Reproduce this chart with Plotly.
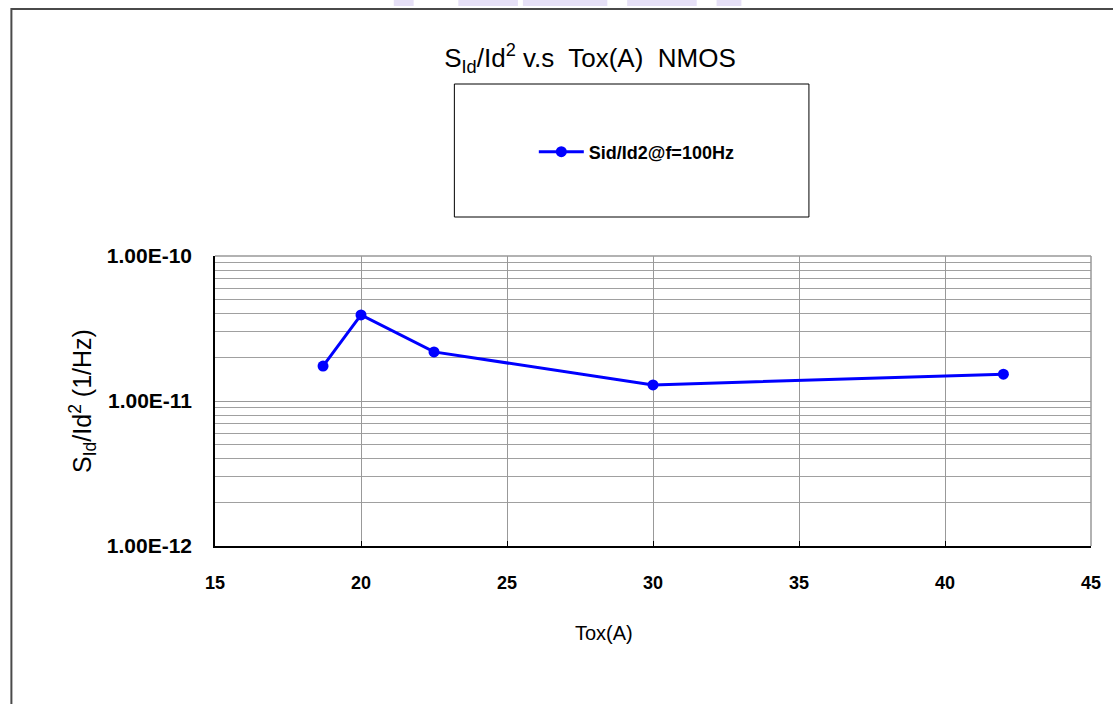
import plotly.graph_objects as go

# Data
tox = [18.7, 20.0, 22.5, 30.0, 42.0]
sid_id2 = [1.74e-11, 3.92e-11, 2.18e-11, 1.29e-11, 1.53e-11]
series_name = "Sid/Id2@f=100Hz"
x_ticks = [15, 20, 25, 30, 35, 40, 45]
y_major = [1e-12, 1e-11, 1e-10]
y_major_text = ["1.00E-12", "1.00E-11", "1.00E-10"]
y_minor = [m * 10.0 ** e for e in (-12, -11) for m in range(2, 10)]

W, H = 1113, 704
L, R, T, B = 215, 16, 256, 158
pw, ph = W - L - R, H - T - B


def px(xp):
    return (xp - L) / pw


def py(yp):
    return (H - B - yp) / ph


fig = go.Figure()
fig.add_trace(go.Scatter(
    x=tox, y=sid_id2, mode="lines+markers", name=series_name,
    line=dict(color="#0000ff", width=3),
    marker=dict(symbol="circle", size=11, color="#0000ff"),
))

shapes = []
# outer chart border
shapes.append(dict(type="rect", xref="paper", yref="paper",
                   x0=px(10), x1=px(1130), y0=py(720), y1=py(9),
                   line=dict(color="#4a4a4a", width=2), layer="below"))
# legend box
shapes.append(dict(type="rect", xref="paper", yref="paper",
                   x0=px(456), x1=px(813), y0=py(217), y1=py(84),
                   line=dict(color="black", width=1)))
# black major gridline at 1e-11
shapes.append(dict(type="line", xref="paper", yref="y",
                   x0=0, x1=1, y0=-11, y1=-11,
                   line=dict(color="black", width=1.5), layer="below"))
# faint watermark pieces at top
for a, b in [(395, 415), (460, 520), (525, 610), (630, 700), (720, 745)]:
    shapes.append(dict(type="rect", xref="paper", yref="paper",
                       x0=px(a), x1=px(b), y0=py(6), y1=py(-2),
                       line=dict(width=0), fillcolor="#e6e0f6", layer="below"))
# right and top plot border lines in gray
shapes.append(dict(type="line", xref="paper", yref="paper", x0=1, x1=1, y0=0, y1=1,
                   line=dict(color="#999999", width=1.5)))
shapes.append(dict(type="line", xref="paper", yref="paper", x0=0, x1=1, y0=1, y1=1,
                   line=dict(color="#999999", width=1.5)))

annotations = [
    dict(text="Tox(A)", xref="paper", yref="paper", x=px(607), y=py(633),
         xanchor="center", yanchor="middle", showarrow=False,
         font=dict(size=20, color="black")),
]

fig.update_layout(
    width=W, height=H,
    margin=dict(l=L, r=R, t=T, b=B, pad=0),
    paper_bgcolor="white", plot_bgcolor="white",
    font=dict(family="Liberation Sans, Arial, sans-serif", color="black"),
    shapes=shapes,
    annotations=annotations,
    title=dict(text="S<sub>Id</sub>/Id<sup>2</sup> v.s&nbsp; Tox(A)&nbsp; NMOS",
               xref="container", yref="container",
               x=590 / W, xanchor="center", y=1 - 58 / H, yanchor="middle",
               font=dict(size=26, color="black")),
    showlegend=True,
    legend=dict(x=px(536), xanchor="left", y=py(152), yanchor="middle",
                bgcolor="rgba(0,0,0,0)", borderwidth=0, itemwidth=45,
                font=dict(size=18, family="Liberation Sans, Arial", weight="bold")),
    xaxis=dict(range=[15, 45], tickvals=x_ticks, ticks="inside", ticklen=5,
               tickcolor="black", showgrid=True, gridcolor="#999999", gridwidth=1,
               showline=True, linecolor="black", linewidth=1.5, mirror=False,
               zeroline=False, ticklabelstandoff=20,
               tickfont=dict(size=18, weight="bold")),
    yaxis=dict(type="log", range=[-12, -10], tickvals=y_major, ticktext=y_major_text,
               ticks="", showgrid=True, gridcolor="#999999", gridwidth=1,
               showline=True, linecolor="black", linewidth=1.5, zeroline=False,
               ticklabelstandoff=17,
               tickfont=dict(size=21, weight="bold"),
               minor=dict(tickvals=y_minor, showgrid=True, gridcolor="#a0a0a0",
                          gridwidth=1, ticks=""),
               title=dict(text="S<sub>Id</sub>/Id<sup>2</sup> (1/Hz)", standoff=8,
                          font=dict(size=25))),
)

fig.write_html("out.html")
